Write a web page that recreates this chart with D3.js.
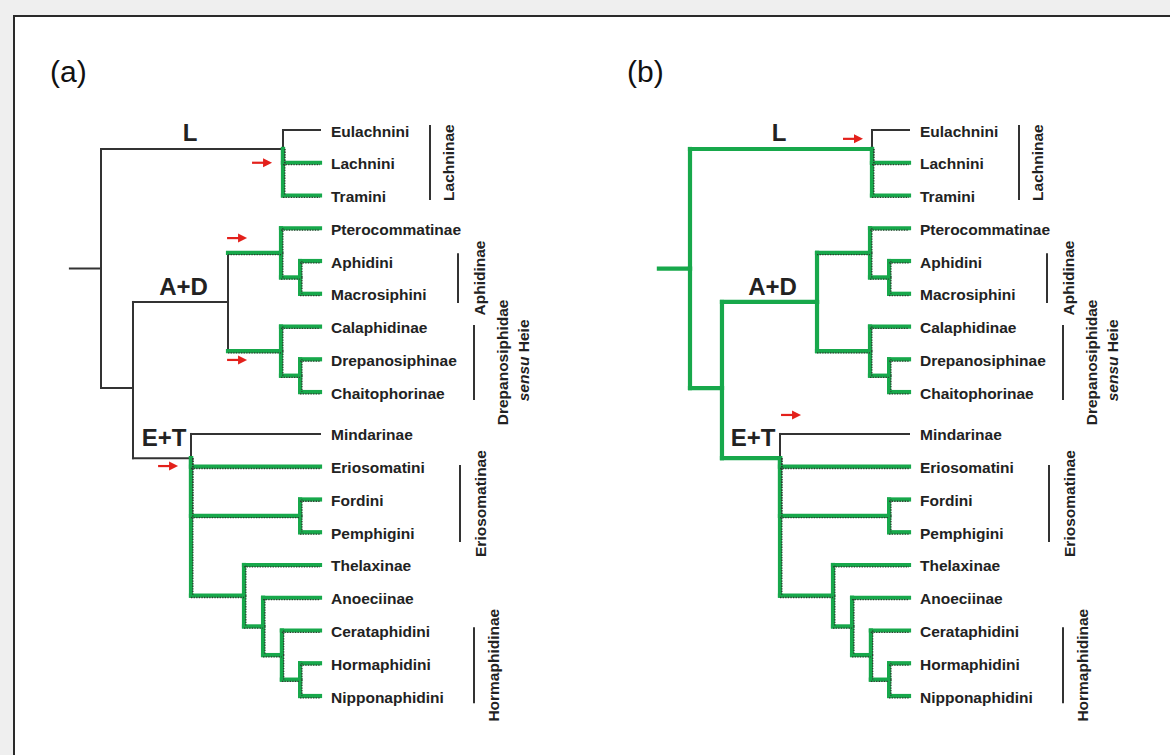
<!DOCTYPE html>
<html>
<head>
<meta charset="utf-8">
<script src="https://cdn.jsdelivr.net/npm/d3@7"></script>
<style>
  body { margin: 0; background: #efefef; }
  svg { display: block; font-family: "Liberation Sans", Arial, sans-serif; }
</style>
</head>
<body>
<svg id="chart" width="1170" height="755"></svg>
<script>
// leaves, top to bottom, and their row position (small gap before Mindarinae)
const taxa = ["Eulachnini", "Lachnini", "Tramini", "Pterocommatinae", "Aphidini", "Macrosiphini",
  "Calaphidinae", "Drepanosiphinae", "Chaitophorinae", "Mindarinae", "Eriosomatini", "Fordini",
  "Pemphigini", "Thelaxinae", "Anoeciinae", "Cerataphidini", "Hormaphidini", "Nipponaphidini"]
const taxonRows = [0, 1, 2, 3, 4, 5, 6, 7, 8, 9.28, 10.28, 11.28, 12.28, 13.28, 14.28, 15.28, 16.28, 17.28]
const taxonParents = ["L", "L", "L", "Pter", "Aphi", "Aphi", "Cala", "Drep", "Drep", "ET", "ET", "FP", "FP",
  "Thel", "Anoe", "Cera", "Horm", "Horm"]

// internal nodes: [id, parent, depth]  (depth 0 = root, 10 = tips)
const clades = [
  ["root", "", 0],
  ["L", "root", 8.31],
  ["ADET", "root", 1.46],
  ["AD", "ADET", 5.8],
  ["Pter", "AD", 8.22],
  ["Aphi", "Pter", 9.09],
  ["Cala", "AD", 8.22],
  ["Drep", "Cala", 9.09],
  ["ET", "ADET", 4.11],
  ["FP", "ET", 9.09],
  ["Thel", "ET", 6.53],
  ["Anoe", "Thel", 7.4],
  ["Cera", "Anoe", 8.26],
  ["Horm", "Cera", 9.09]
]
// nodes whose branch does not join in the middle of their children
const rowOverride = {L: 0.58, ADET: 7.88, ET: 10.02}
const rootStub = -1.42

// branch states  k = black, g = green, d = green with dotted edge ; "vertical/horizontal"
const edgesA = {root: "k", L: "k", Eulachnini: "k", ADET: "k", AD: "k", Pter: "k/d", Cala: "k/d", ET: "k", Mindarinae: "k"}
const edgesB = {root: "g", L: "g", Eulachnini: "k", ADET: "g", AD: "g", Pter: "g/d", Cala: "g/d", ET: "g", Mindarinae: "k"}

// red arrows: [tip depth, row]
const arrowsA = [[7.81, 1], [6.67, 3.3], [6.67, 7.02], [3.52, 10.26]]
const arrowsB = [[7.9, 0.27], [5.07, 8.7]]

// clade names written above their branch
const cladeNames = ["L", "A+D", "E+T"]
const cladeNodes = ["L", "AD", "ET"]

// side brackets
const groups = ["Lachninae", "Aphidinae", "Drepanosiphidae", "Eriosomatinae", "Hormaphidinae"]
const groupSpans = [[-0.15, 2.14], [3.76, 5.28], [5.95, 8.24], [10.23, 12.58], [15.18, 17.5]]

const panelNames = ["(a)", "(b)"]

// ---- layout
const panelGap = 589
const bracketX = [430, 458, 474, 460, 474]
const bracketLabelX = [448, 479, 502, 480, 493]
const cladeDx = [-2, 3, 2]
const cladeDy = [-8, -7, -12]
const green = "#17a84b", black = "#333"

const svg = d3.select("#chart")

// frame
svg.append("rect").attr("x", 0).attr("y", 0).attr("width", 1170).attr("height", 755).attr("fill", "#efefef")
svg.append("rect").attr("x", 14).attr("y", 16).attr("width", 1200).attr("height", 800)
   .attr("fill", "#fff").attr("stroke", "#2a2a2a").attr("stroke-width", 2)

const xs = d3.scaleLinear().domain([0, 10]).range([101, 320])
const ys = d3.scaleLinear().domain([0, 17.28]).range([130, 696])

let table = clades.map(c => ({id: c[0], parentId: c[1] || null, depth: c[2]}))
taxa.forEach((t, i) => table.push({id: t, parentId: taxonParents[i], depth: 10, row: taxonRows[i]}))
const root = d3.stratify().id(d => d.id).parentId(d => d.parentId)(table)

root.eachAfter(n => {
  if (!n.children) n.row = n.data.row
  else if (rowOverride[n.id] !== undefined) n.row = rowOverride[n.id]
  else {
    let ext = d3.extent(n.children, c => c.row)
    n.row = (ext[0] + ext[1]) / 2
  }
  n.x = xs(n.data.depth)
  n.y = ys(n.row)
})

function drawPanel(offset, edges, arrows, name) {
  let g = svg.append("g").attr("transform", "translate(" + offset + ",0)")
  let segs = []
  let state = id => (edges[id] || "d").split("/")

  let st = state("root")
  segs.push({x1: xs(rootStub), y1: root.y, x2: root.x, y2: root.y, s: st[st.length - 1]})
  root.descendants().forEach(n => {
    if (!n.parent) return
    let s = state(n.id), p = n.parent
    let sv = s[0], sh = s[s.length - 1]
    if (Math.abs(p.y - n.y) > 0.1) segs.push({x1: p.x, y1: p.y, x2: p.x, y2: n.y, s: sv})
    if (n.x - p.x > 0.1) segs.push({x1: p.x, y1: n.y, x2: n.x, y2: n.y, s: sh})
  })

  g.selectAll(".blk").data(segs.filter(d => d.s === "k")).enter().append("line")
    .attr("x1", d => d.x1).attr("y1", d => d.y1).attr("x2", d => d.x2).attr("y2", d => d.y2)
    .attr("stroke", black).attr("stroke-width", 2).attr("stroke-linecap", "square")
  g.selectAll(".grn").data(segs.filter(d => d.s !== "k")).enter().append("line")
    .attr("x1", d => d.x1).attr("y1", d => d.y1).attr("x2", d => d.x2).attr("y2", d => d.y2)
    .attr("stroke", green).attr("stroke-width", 4.2).attr("stroke-linecap", "square")
  // dotted edge below horizontals, right of verticals
  g.selectAll(".dot").data(segs.filter(d => d.s === "d")).enter().append("line")
    .attr("x1", d => d.x1 + (d.x1 === d.x2 ? 1.8 : 0))
    .attr("x2", d => d.x2 + (d.x1 === d.x2 ? 1.8 : 0))
    .attr("y1", d => d.y1 + (d.y1 === d.y2 ? 1.8 : 0))
    .attr("y2", d => d.y2 + (d.y1 === d.y2 ? 1.8 : 0))
    .attr("stroke", "#2e3a30").attr("stroke-width", 1.3).attr("stroke-dasharray", "1.3 1.3")

  // leaf labels
  g.selectAll(".taxon").data(root.leaves()).enter().append("text")
    .attr("x", xs(10) + 11).attr("y", d => d.y + 1)
    .attr("dominant-baseline", "central")
    .attr("font-size", 15.5).attr("font-weight", "bold").attr("fill", "#222")
    .text(d => d.id)

  // clade names
  cladeNames.forEach((c, i) => {
    let n = root.find(d => d.id === cladeNodes[i])
    g.append("text").attr("x", (n.x + n.parent.x) / 2 + cladeDx[i]).attr("y", n.y + cladeDy[i])
      .attr("text-anchor", "middle").attr("font-size", 24).attr("font-weight", "bold").attr("fill", "#222")
      .text(c)
  })

  // brackets
  groups.forEach((grp, i) => {
    let y0 = ys(groupSpans[i][0]), y1 = ys(groupSpans[i][1]), ym = (y0 + y1) / 2
    g.append("line").attr("x1", bracketX[i]).attr("x2", bracketX[i]).attr("y1", y0).attr("y2", y1)
      .attr("stroke", black).attr("stroke-width", 2)
    let t = g.append("text").attr("transform", "translate(" + bracketLabelX[i] + "," + ym + ") rotate(-90)")
      .attr("text-anchor", "middle").attr("dominant-baseline", "central")
      .attr("font-size", 15.5).attr("font-weight", "bold").attr("fill", "#222")
      .text(grp)
    if (grp === "Drepanosiphidae") {
      let t2 = g.append("text").attr("transform", "translate(" + (bracketLabelX[i] + 21) + "," + (ym - 2) + ") rotate(-90)")
        .attr("text-anchor", "middle").attr("dominant-baseline", "central")
        .attr("font-size", 15.5).attr("font-weight", "bold").attr("fill", "#222")
      t2.append("tspan").attr("font-style", "italic").text("sensu")
      t2.append("tspan").text(" Heie")
    }
  })

  // arrows
  arrows.forEach(a => {
    let tx = xs(a[0]), ty = ys(a[1])
    g.append("line").attr("x1", tx - 20).attr("x2", tx - 7).attr("y1", ty).attr("y2", ty)
      .attr("stroke", "#e3201b").attr("stroke-width", 2.2)
    g.append("path").attr("d", "M" + tx + "," + ty + "L" + (tx - 9) + "," + (ty - 4.5) + "L" + (tx - 9) + "," + (ty + 4.5) + "Z")
      .attr("fill", "#e3201b")
  })

  svg.append("text").attr("x", 50 + offset - (offset ? 12 : 0)).attr("y", 82)
    .attr("font-size", 30).attr("fill", "#111").text(name)
}

drawPanel(0, edgesA, arrowsA, panelNames[0])
drawPanel(panelGap, edgesB, arrowsB, panelNames[1])
</script>
</body>
</html>
